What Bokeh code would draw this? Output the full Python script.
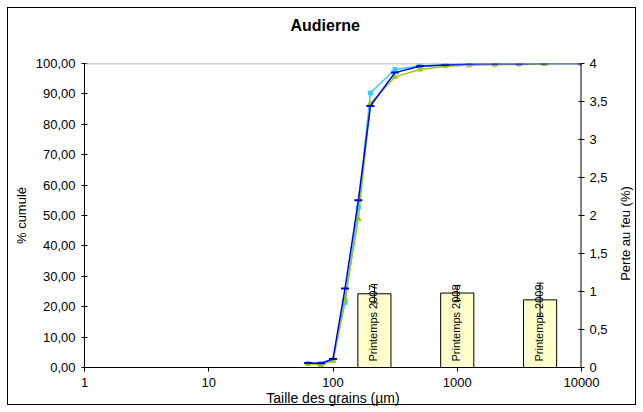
import math
from bokeh.plotting import figure
from bokeh.models import (Range1d, LinearAxis, LinearScale, FixedTicker, CustomJSTickFormatter, Span,
                          Whisker, ColumnDataSource, TeeHead, InlineStyleSheet, Title)
from bokeh.core.properties import value
from bokeh.embed import file_html
from bokeh.resources import INLINE

# ---- data ----
sizes = [63, 80, 100, 125, 160, 200, 315, 500, 800, 1250, 2000, 3150, 5000, 10000]
serie_bleue = [1.5, 1.4, 2.8, 26.0, 55.0, 86.0, 97.0, 99.1, 99.5, 99.8, 99.9, 99.95, 99.97, 100.0]
serie_cyan = [1.3, 1.2, 2.5, 21.4, 52.7, 90.3, 98.0, 99.2, 99.6, 99.8, 99.9, 99.95, 99.97, 100.0]
serie_verte = [1.2, 0.8, 2.2, 22.7, 48.9, 86.8, 95.6, 98.0, 99.1, 99.4, 99.6, 99.7, 99.9, 100.0]

bar_labels = ["Printemps 2007", "Printemps 2008", "Printemps 2009"]
bar_slots = [4, 5, 6]
n_slots = 6
perte_feu = [0.97, 0.98, 0.89]
perte_err = [0.12, 0.10, 0.22]

x_ticks = [1, 10, 100, 1000, 10000]
left_ticks = [0, 10, 20, 30, 40, 50, 60, 70, 80, 90, 100]
right_ticks = [0, 0.5, 1, 1.5, 2, 2.5, 3, 3.5, 4]

FONT = "Liberation Sans"
FS = "13px"

p = figure(width=643, height=412, x_axis_type="log",
           x_range=Range1d(1, 10000), y_range=Range1d(0, 100),
           output_backend="svg", toolbar_location=None,
           min_border_left=84, min_border_right=61, min_border_top=63, min_border_bottom=45)
p.extra_y_ranges = {"right": Range1d(0, 4)}
p.extra_x_ranges = {"slots": Range1d(0, n_slots)}
p.extra_x_scales = {"slots": LinearScale()}
p.extra_y_scales = {"right": LinearScale()}
p.outline_line_color = None
p.xgrid.visible = False
p.ygrid.visible = False
p.background_fill_color = "white"
p.border_fill_color = None
frame_css = ":host { background: white; box-shadow: inset 0 0 0 7px white, inset 0 0 0 8px black; }"
p.stylesheets = [InlineStyleSheet(css=frame_css)]
p.styles = {"background": "white", "box-shadow": "inset 0 0 0 7px white, inset 0 0 0 8px black"}

p.title.text = "Audierne"
p.title.align = "left"
p.title.offset = 206
p.title.text_font = FONT
p.title.text_font_size = "16px"
p.title.text_font_style = "bold"
p.title.text_color = "black"
p.title.standoff = 0
# empty spacer between the title and the plot area
p.add_layout(Title(text=" ", text_font_size="10px", standoff=17), "above")

def style_axis(ax):
    ax.axis_line_color = "black"
    ax.major_tick_line_color = "black"
    ax.minor_tick_line_color = None
    ax.major_label_text_font = FONT
    ax.major_label_text_font_size = FS
    ax.major_label_text_color = "black"
    ax.axis_label_text_font = FONT
    ax.axis_label_text_font_size = FS
    ax.axis_label_text_font_style = "normal"
    ax.axis_label_text_color = "black"

xa = p.xaxis[0]
style_axis(xa)
xa.ticker = FixedTicker(ticks=x_ticks)
xa.formatter = CustomJSTickFormatter(code="return String(Math.round(tick));")
xa.major_tick_out = 4
xa.major_tick_in = 0
xa.major_label_standoff = 6
xa.axis_label = "Taille des grains (µm)"
xa.axis_label_text_font_size = "14px"
xa.axis_label_standoff = 0

ya = p.yaxis[0]
style_axis(ya)
ya.ticker = FixedTicker(ticks=left_ticks)
ya.formatter = CustomJSTickFormatter(code="return tick.toFixed(2).replace('.', ',');")
ya.major_tick_out = 3
ya.major_tick_in = 3
ya.major_label_standoff = 6
ya.axis_label = "% cumulé"
ya.axis_label_standoff = 4

right_title = "Perte au feu (%)"
ra = LinearAxis(y_range_name="right")
style_axis(ra)
ra.ticker = FixedTicker(ticks=right_ticks)
ra.formatter = CustomJSTickFormatter(code="return String(tick).replace('.', ',');")
ra.axis_line_color = None
ra.major_tick_out = 3
ra.major_tick_in = 3
ra.major_label_standoff = 5
ra.axis_label_standoff = 15
ra.axis_label_orientation = math.pi / 2
label_text = right_title
if "axis_label_align" in ra.properties():
    done = False
    for opt in ("start", "left"):
        try:
            ra.axis_label_align = opt
            done = True
            break
        except Exception:
            pass
    if done:
        label_text = "\u00a0" * 24 + right_title
ra.axis_label = label_text
p.add_layout(ra, "right")

# right axis line along the frame edge, grey line at 100
p.add_layout(Span(location=x_ticks[-1], dimension="height", line_color="black", line_width=2))
p.add_layout(Span(location=100, dimension="width", line_color="#9a9a9a", line_width=1.5))

# bars (secondary axes)
bar_x = [s - 0.5 for s in bar_slots]
p.vbar(x=bar_x, top=perte_feu, bottom=0, width=0.4, x_range_name="slots", y_range_name="right",
       fill_color="#FFFFCC", line_color="black", line_width=1)
p.text(x=bar_x, y=[0] * len(bar_x), text=bar_labels, angle=math.pi / 2,
       text_align="left", text_baseline="middle", x_offset=-1.5, y_offset=-6,
       text_font=value(FONT), text_font_size="11px", text_color="black",
       x_range_name="slots", y_range_name="right")
err_src = ColumnDataSource(dict(base=bar_x,
                                upper=[v + e for v, e in zip(perte_feu, perte_err)],
                                lower=[v - e for v, e in zip(perte_feu, perte_err)]))
p.add_layout(Whisker(source=err_src, base="base", upper="upper", lower="lower", dimension="height",
                     x_range_name="slots", y_range_name="right", line_color="black", line_width=1,
                     upper_head=TeeHead(size=7, line_color="black", line_width=1),
                     lower_head=TeeHead(size=7, line_color="black", line_width=1),
                     level="overlay"))

# cumulative curves
p.line(sizes, serie_cyan, line_color="#33CCFF", line_width=1.5)
p.scatter(sizes, serie_cyan, marker="square", size=4, fill_color="#33CCFF", line_color="#33CCFF")
p.line(sizes, serie_verte, line_color="#99CC00", line_width=1.5)
p.scatter(sizes, serie_verte, marker="triangle", size=5, fill_color="#99CC00", line_color="#99CC00")
p.line(sizes, serie_bleue, line_color="#0000FF", line_width=1.5)
p.scatter(sizes, serie_bleue, marker="dash", size=8, line_color="#0000CC", line_width=2)

open("out.html", "w").write(file_html(p, INLINE))
